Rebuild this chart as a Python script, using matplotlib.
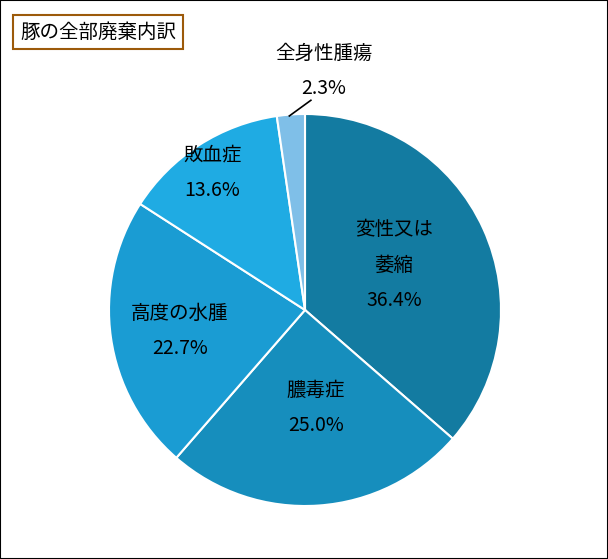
import matplotlib
matplotlib.use("Agg")
import matplotlib.pyplot as plt
from matplotlib.patches import Rectangle

plt.rcParams['font.family'] = ['Noto Sans CJK JP', 'DejaVu Sans']

labels = ['変性又は\n萎縮', '膿毒症', '高度の水腫', '敗血症', '全身性腫瘍']
values = [36.4, 25.0, 22.7, 13.6, 2.3]
colors = ['#137BA1', '#168EBD', '#1A9CD3', '#1FABE3', '#7FBFE8']
title = '豚の全部廃棄内訳'

fig = plt.figure(figsize=(6.08, 5.59), dpi=100)
fig.patches.append(Rectangle((0, 0), 1, 1, transform=fig.transFigure, fill=False,
                             edgecolor='black', linewidth=1.5))
W, H = 608, 559
cx, cy, r = 305, 310, 196
ax = fig.add_axes([(cx - r) / W, (H - cy - r) / H, 2 * r / W, 2 * r / H])
ax.pie(values, colors=colors, startangle=90, counterclock=False, radius=1,
       wedgeprops=dict(edgecolor='white', linewidth=1.5))
ax.set_xlim(-1, 1); ax.set_ylim(-1, 1)
ax.set_aspect('equal')
ax.axis('off')

pos = [(0.454, 0.23), (0.056, -0.50), (-0.638, -0.107), (-0.474, 0.70), (0.097, 1.22)]
for lab, v, (x, y) in zip(labels, values, pos):
    ax.text(x, y, f'{lab}\n{v:.1f}%', ha='center', va='center', fontsize=14,
            linespacing=1.9, clip_on=False)
ax.plot([-0.08, 0.03], [0.99, 1.07], color='black', linewidth=1.2, clip_on=False)

fig.text(20 / W, 1 - 32 / H, title, fontsize=14, ha='left', va='center',
         bbox=dict(boxstyle='square,pad=0.35', facecolor='white', edgecolor='#9C5A0A', linewidth=1.5))
fig.savefig('out.png', dpi=100)
